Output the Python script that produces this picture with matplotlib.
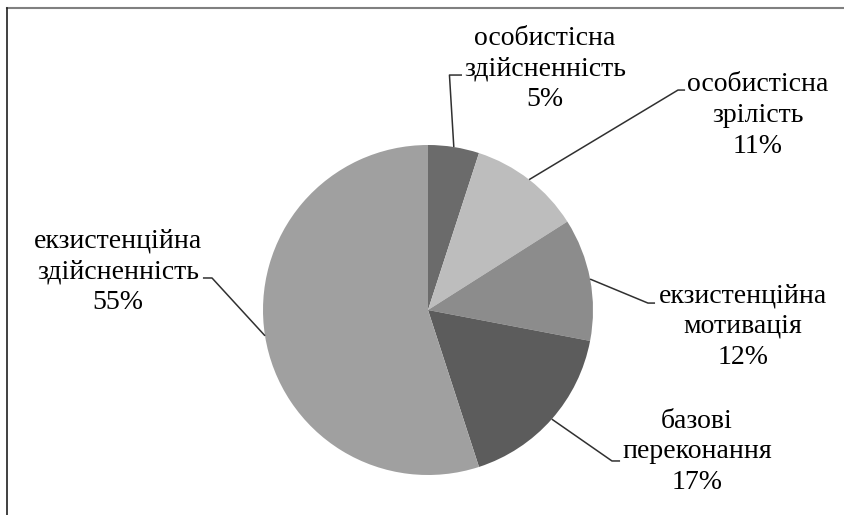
import matplotlib
matplotlib.use("Agg")
import matplotlib.pyplot as plt
from matplotlib.lines import Line2D
import numpy as np

plt.rcParams["font.family"] = ["Liberation Serif", "DejaVu Serif"]

# ── Data ──
labels = [
    "особистісна\nздійсненність",
    "особистісна\nзрілість",
    "екзистенційна\nмотивація",
    "базові\nпереконання",
    "екзистенційна\nздійсненність",
]
shares = [5, 11, 12, 17, 55]
colors = ["#6b6b6b", "#bdbdbd", "#8c8c8c", "#5c5c5c", "#a0a0a0"]

# label layout (data coords, pie radius = 1): text centre, leader elbow, leader end
text_pos = [(0.71, 1.46), (2.00, 1.18), (1.91, -0.10), (1.63, -0.86), (-1.88, 0.23)]
elbow_pos = [(0.13, 1.424), (1.515, 1.333), (1.333, 0.042), (1.115, -0.915), (-1.309, 0.194)]
end_pos = [(0.206, 1.424), (1.558, 1.333), (1.376, 0.042), (1.164, -0.915), (-1.364, 0.194)]

W, H = 845, 515
fig = plt.figure(figsize=(W / 100, H / 100), dpi=100)
fig.patch.set_facecolor("white")

cx, cy, r = 428, 310, 165
ax = fig.add_axes([(cx - r) / W, (H - cy - r) / H, 2 * r / W, 2 * r / H])
wedges, _ = ax.pie(shares, colors=colors, startangle=90, counterclock=False,
                   radius=1, wedgeprops=dict(linewidth=0))
ax.set_xlim(-1, 1)
ax.set_ylim(-1, 1)
ax.set_aspect("equal")
ax.axis("off")

for w, lab, val, tp, ep, nd in zip(wedges, labels, shares, text_pos, elbow_pos, end_pos):
    mid = np.deg2rad((w.theta1 + w.theta2) / 2)
    ax_, ay_ = np.cos(mid), np.sin(mid)
    ax.plot([ax_, ep[0], nd[0]], [ay_, ep[1], nd[1]], color="#303030", lw=1.1,
            clip_on=False, solid_capstyle="butt")
    ax.text(tp[0], tp[1], f"{lab}\n{val}%", ha="center", va="center",
            fontsize=20, linespacing=1.3, color="black", clip_on=False)

# chart frame (top and left edges visible)
fig.add_artist(Line2D([7 / W, 1], [1 - 8 / H, 1 - 8 / H], color="#808080", lw=1.5))
fig.add_artist(Line2D([7 / W, 7 / W], [0, 1 - 8 / H], color="#202020", lw=1.2))

fig.savefig("out.png", dpi=100)
